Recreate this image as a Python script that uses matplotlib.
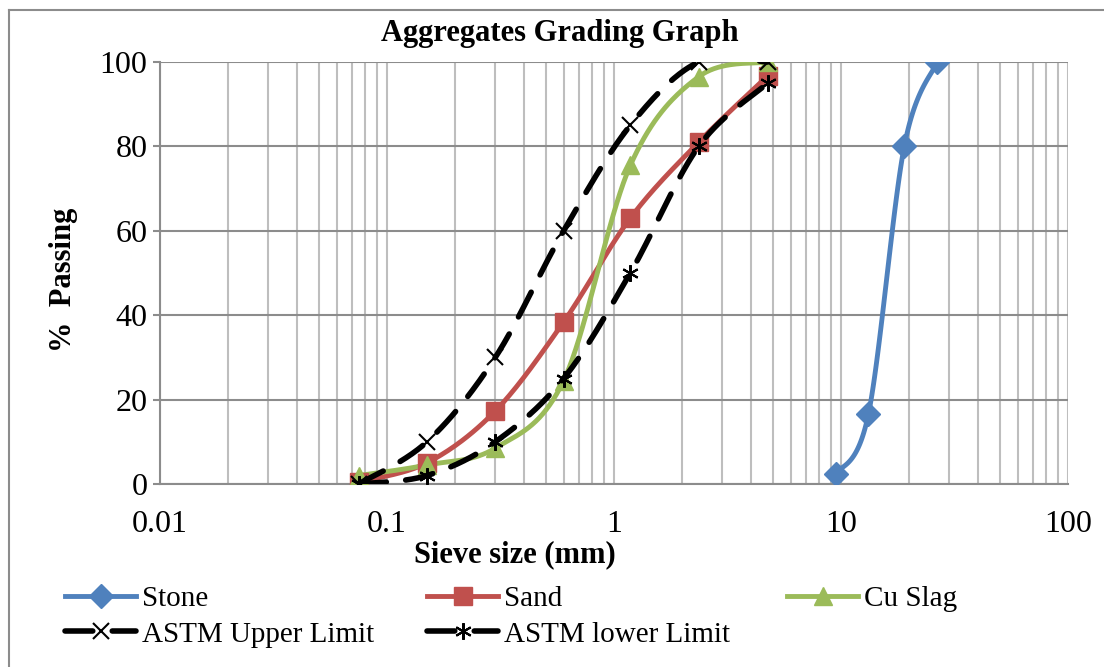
import numpy as np
import matplotlib.pyplot as plt
from matplotlib.ticker import LogLocator, FixedLocator, NullFormatter
from matplotlib.lines import Line2D

plt.rcParams['font.family'] = ['Liberation Serif', 'DejaVu Serif']

# sieve sizes (mm) and % passing
stone_size = [9.5, 13.2, 19.0, 26.5]
stone_pass = [2.4, 16.5, 80.0, 100.0]

fine_size = [0.075, 0.15, 0.3, 0.6, 1.18, 2.36, 4.75]
sand_pass = [0.5, 5.0, 17.3, 38.4, 63.0, 81.0, 96.7]
slag_pass = [2.0, 4.5, 8.5, 24.5, 75.5, 96.5, 100.0]
upper_pass = [0.0, 10.0, 30.0, 60.0, 85.0, 100.0, 100.0]
lower_pass = [0.0, 2.0, 10.0, 25.0, 50.0, 80.0, 95.0]

XMIN, XMAX = 0.01, 100
W_PX, H_PX = 908.0, 422.0


def smooth(xs, ys, n=40):
    # Catmull-Rom style bezier through the points, computed in plot pixel space
    u = (np.log10(xs) - np.log10(XMIN)) / (np.log10(XMAX) - np.log10(XMIN)) * W_PX
    v = np.asarray(ys, float) / 100.0 * H_PX
    pts = np.column_stack([u, v])
    out = [pts[0]]
    for i in range(len(pts) - 1):
        p0 = pts[i - 1] if i > 0 else pts[i]
        p1 = pts[i]
        p2 = pts[i + 1]
        p3 = pts[i + 2] if i + 2 < len(pts) else pts[i + 1]
        c1 = p1 + (p2 - p0) / 6.0
        c2 = p2 - (p3 - p1) / 6.0
        t = np.linspace(0, 1, n)[1:, None]
        seg = ((1 - t) ** 3) * p1 + 3 * ((1 - t) ** 2) * t * c1 + 3 * (1 - t) * t ** 2 * c2 + t ** 3 * p2
        out.extend(seg)
    out = np.array(out)
    xo = 10 ** (out[:, 0] / W_PX * (np.log10(XMAX) - np.log10(XMIN)) + np.log10(XMIN))
    yo = out[:, 1] / H_PX * 100.0
    return xo, yo


fig = plt.figure(figsize=(11.04, 6.67), dpi=100)
ax = fig.add_axes([160 / 1104, 1 - 484 / 667, 908 / 1104, 422 / 667])

ax.set_xscale('log')
ax.set_xlim(XMIN, XMAX)
ax.set_ylim(0, 100)

ax.xaxis.set_major_locator(FixedLocator([0.01, 0.1, 1, 10, 100]))
ax.xaxis.set_minor_locator(LogLocator(base=10, subs=np.arange(2, 10)))
ax.xaxis.set_minor_formatter(NullFormatter())
ax.set_xticklabels(['0.01', '0.1', '1', '10', '100'])
ax.set_yticks([0, 20, 40, 60, 80, 100])

ax.grid(True, axis='x', which='both', color='#BEBEBE', lw=1.5)
ax.grid(True, axis='y', which='major', color='#8C8C8C', lw=1.5)
ax.set_axisbelow(True)
for s in ['top', 'right']:
    ax.spines[s].set_visible(False)
for s in ['left', 'bottom']:
    ax.spines[s].set_color('#8C8C8C')
    ax.spines[s].set_linewidth(1.5)
ax.tick_params(axis='x', which='both', length=0, labelsize=23, pad=19)
ax.tick_params(axis='y', length=5, width=1.5, color='#8C8C8C', labelsize=23, pad=4)

series = [
    ('Stone', stone_size, stone_pass, '#4F81BD', 'D', 12),
    ('Sand', fine_size, sand_pass, '#C0504D', 's', 13),
    ('Cu Slag', fine_size, slag_pass, '#9BBB59', '^', 13),
]
handles = {}
for name, xs, ys, col, mk, ms in series:
    sx, sy = smooth(xs, ys)
    ax.plot(sx, sy, color=col, lw=3.5, solid_capstyle='round', zorder=3)
    ax.plot(xs, ys, ls='none', marker=mk, ms=ms, color=col, zorder=4)
    handles[name] = Line2D([], [], color=col, lw=3.5, marker=mk, ms=ms)

dash = (0, (5, 3.5))
for name, ys, mk in [('ASTM Upper Limit', upper_pass, 'x'), ('ASTM lower Limit', lower_pass, (6, 2, 0))]:
    sx, sy = smooth(fine_size, ys)
    ax.plot(sx, sy, color='black', lw=4, ls=dash, dash_capstyle='round', zorder=5)
    ax.plot(fine_size, ys, ls='none', marker=mk, ms=12, mew=1.5, color='black', zorder=6)
    handles[name] = Line2D([], [], color='black', lw=4, ls=dash, dash_capstyle='round',
                           marker=mk, ms=12, mew=1.5)

fig.text(560 / 1104, 1 - 34 / 667, 'Aggregates Grading Graph', ha='center', va='center',
         fontsize=22, fontweight='bold')
fig.text(515 / 1104, 1 - 555 / 667, 'Sieve size (mm)', ha='center', va='center',
         fontsize=22, fontweight='bold')
fig.text(64 / 1104, 1 - 280 / 667, '%  Passing', ha='center', va='center', rotation=90,
         fontsize=22, fontweight='bold')

# legend laid out as three columns
columns = [(65, ['Stone', 'ASTM Upper Limit']), (427, ['Sand', 'ASTM lower Limit']), (787, ['Cu Slag'])]
for xpx, names in columns:
    leg = fig.legend([handles[k] for k in names], names, loc='upper left',
                     bbox_to_anchor=(xpx / 1104, 1 - 586 / 667), frameon=False, fontsize=21,
                     borderpad=0, borderaxespad=0, handlelength=2.45, handletextpad=0.2,
                     labelspacing=0.3)

# chart area border (top and left edges)
fig.add_artist(Line2D([9 / 1104, 1], [1 - 10 / 667, 1 - 10 / 667], transform=fig.transFigure,
                      color='#8C8C8C', lw=1.5))
fig.add_artist(Line2D([9 / 1104, 9 / 1104], [0, 1 - 10 / 667], transform=fig.transFigure,
                      color='#8C8C8C', lw=1.5))

fig.savefig('out.png', dpi=100)
